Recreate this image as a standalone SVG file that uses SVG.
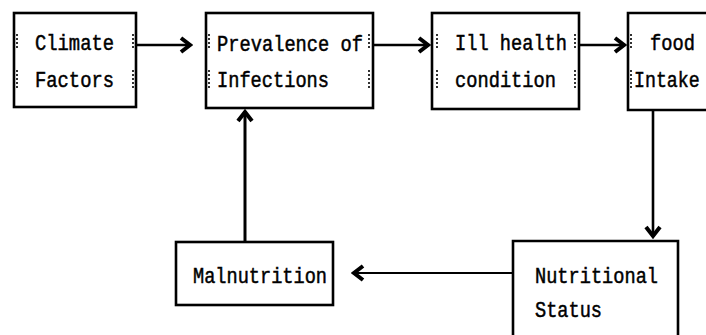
<svg xmlns="http://www.w3.org/2000/svg" width="706" height="335" viewBox="0 0 706 335">
<style>
.box{fill:#fff;stroke:#000;stroke-width:2.6}
.t{font-family:"Liberation Mono","DejaVu Sans Mono",monospace;font-size:22px;fill:#000;stroke:#000;stroke-width:0.5}
.c{fill:none;stroke:#000;stroke-width:2.6}
.d{fill:none;stroke:#000;stroke-width:1.6;stroke-dasharray:2 2}
</style>
<defs>
<marker id="ah" markerUnits="userSpaceOnUse" viewBox="-14 -10 16 20" markerWidth="16" markerHeight="20" refX="0" refY="0" orient="auto">
<path d="M-10,-7 L-1,0 L-10,7" fill="none" stroke="#000" stroke-width="4"/>
</marker>
</defs>
<rect width="706" height="335" fill="#fff"/>
<g id="connectors">
<line class="c" x1="136" y1="45" x2="191" y2="45" marker-end="url(#ah)"/>
<line class="c" x1="373" y1="45" x2="429" y2="45" marker-end="url(#ah)"/>
<line class="c" x1="579" y1="45" x2="625" y2="45" marker-end="url(#ah)"/>
<line class="c" x1="653" y1="110" x2="653" y2="237" marker-end="url(#ah)"/>
<line class="c" style="stroke-width:1.8" x1="513" y1="273" x2="353" y2="273" marker-end="url(#ah)"/>
<line class="c" style="stroke-width:3" x1="245" y1="242" x2="245" y2="111" marker-end="url(#ah)"/>
</g>
<g id="climate">
<rect class="box" x="14" y="13" width="122" height="94"/>
<path class="d" d="M17,34V50M17,70V88M133,34V50M133,70V88"/>
<text class="t" x="35" y="50" textLength="79" lengthAdjust="spacingAndGlyphs">Climate</text>
<text class="t" x="35" y="87" textLength="79" lengthAdjust="spacingAndGlyphs">Factors</text>
</g>
<g id="prevalence">
<rect class="box" x="206" y="13" width="167" height="95"/>
<path class="d" d="M209,34V50M209,70V88M369,34V50M369,70V88"/>
<text class="t" x="217" y="51" textLength="146" lengthAdjust="spacingAndGlyphs">Prevalence of</text>
<text class="t" x="217" y="87" textLength="112" lengthAdjust="spacingAndGlyphs">Infections</text>
</g>
<g id="illhealth">
<rect class="box" x="432" y="13" width="147" height="96"/>
<path class="d" d="M437,34V50M437,70V88M575,34V50M575,70V88"/>
<text class="t" x="455" y="50" textLength="112" lengthAdjust="spacingAndGlyphs">Ill health</text>
<text class="t" x="455" y="87" textLength="101" lengthAdjust="spacingAndGlyphs">condition</text>
</g>
<g id="foodintake">
<path class="box" d="M707,13H628V110H707"/>
<path class="d" d="M631,34V50M631,70V88"/>
<text class="t" transform="translate(650,50) scale(0.85,1)">food</text>
<text class="t" transform="translate(634,87) scale(0.83,1)">Intake</text>
</g>
<g id="malnutrition">
<rect class="box" x="176" y="242" width="157" height="63"/>
<text class="t" x="193" y="283" textLength="134" lengthAdjust="spacingAndGlyphs">Malnutrition</text>
</g>
<g id="nutritional">
<path class="box" d="M513,336V241H678V336"/>
<text class="t" x="535" y="283" textLength="123" lengthAdjust="spacingAndGlyphs">Nutritional</text>
<text class="t" x="535" y="317" textLength="67" lengthAdjust="spacingAndGlyphs">Status</text>
</g>
</svg>
